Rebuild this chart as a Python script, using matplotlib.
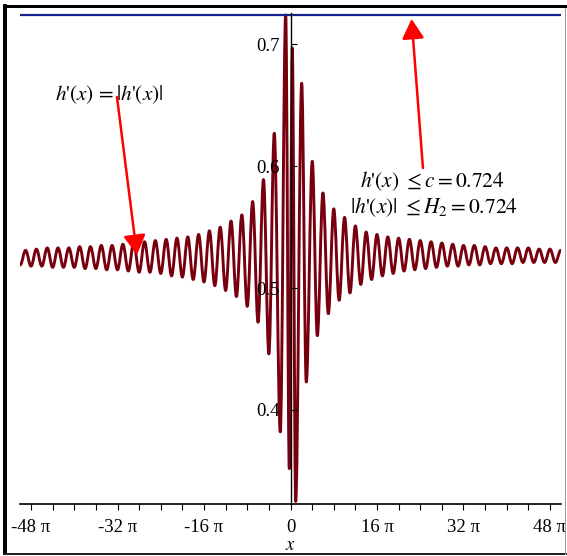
import numpy as np
import matplotlib.pyplot as plt
from matplotlib.path import Path
from matplotlib.patches import PathPatch, Rectangle

plt.rcParams['font.family'] = ['Liberation Serif', 'DejaVu Serif']
plt.rcParams['mathtext.fontset'] = 'stix'

# extrema of h'(x), x in units of pi
ext_x = [-50, -49, -48, -47, -46, -45, -44, -43, -42, -41, -40, -39, -38, -37,
         -36, -35, -34, -33, -32, -31, -30, -29, -28, -27, -26, -25, -24, -23,
         -22, -21, -20, -19, -18, -17, -16, -15, -14, -13, -12, -11, -10, -9,
         -8, -7, -6, -5, -4, -3, -1.89, -0.89, -0.22, 0.33, 0.96, 2.07, 2.92,
         4.03, 4.96, 6, 7, 8, 9, 10, 11, 12, 13, 14, 15, 16, 17, 18, 19, 20,
         21, 22, 23, 24, 25, 26, 27, 28, 29, 30, 31, 32, 33, 34, 35, 36, 37,
         38, 39, 40, 41, 42, 43, 44, 45, 46, 47, 48, 49, 50]
ext_y = [0.519, 0.531, 0.518, 0.532, 0.518, 0.533, 0.517, 0.533, 0.517, 0.533,
         0.517, 0.534, 0.516, 0.534, 0.516, 0.535, 0.515, 0.535, 0.515, 0.536,
         0.514, 0.537, 0.513, 0.538, 0.513, 0.539, 0.512, 0.540, 0.510, 0.541,
         0.509, 0.542, 0.507, 0.544, 0.505, 0.547, 0.502, 0.550, 0.498, 0.555,
         0.493, 0.560, 0.485, 0.571, 0.472, 0.589, 0.446, 0.627, 0.382, 0.724,
         0.352, 0.697, 0.325, 0.668, 0.423, 0.604, 0.461, 0.578, 0.479, 0.565,
         0.490, 0.558, 0.496, 0.551, 0.503, 0.546, 0.507, 0.544, 0.510, 0.542,
         0.512, 0.541, 0.514, 0.540, 0.515, 0.539, 0.516, 0.538, 0.517, 0.537,
         0.518, 0.536, 0.518, 0.535, 0.519, 0.535, 0.519, 0.534, 0.520, 0.533,
         0.520, 0.533, 0.520, 0.533, 0.521, 0.533, 0.521, 0.532, 0.521, 0.532,
         0.521, 0.531]

c_value = 0.724
x_major = [-48, -32, -16, 0, 16, 32, 48]
x_labels = ['-48 π', '-32 π', '-16 π', '0', '16 π', '32 π', '48 π']
y_major = [0.4, 0.5, 0.6, 0.7]
y_labels = ['0.4', '0.5', '0.6', '0.7']

W, H = 567, 556
fig = plt.figure(figsize=(W / 100, H / 100), dpi=100)
ax = fig.add_axes([20.2 / W, 1 - 503.5 / H, 540.6 / W, 490.8 / H])


def px(x, y):
    # figure pixel (from top-left) -> figure fraction
    return x / W, 1 - y / H


# the curve, drawn as smooth bezier segments between extrema
xs = np.array(ext_x) * np.pi
ys = np.array(ext_y)
k = 0.3642
verts = [(xs[0], ys[0])]
codes = [Path.MOVETO]
for i in range(len(xs) - 1):
    dx = xs[i + 1] - xs[i]
    verts += [(xs[i] + k * dx, ys[i]), (xs[i + 1] - k * dx, ys[i + 1]), (xs[i + 1], ys[i + 1])]
    codes += [Path.CURVE4] * 3
ax.add_patch(PathPatch(Path(verts, codes), facecolor='none', edgecolor='#78000e',
                       lw=2.1, capstyle='round', joinstyle='round'))

ax.axhline(c_value, color='#16228c', lw=1.6)

ax.set_xlim(-50 * np.pi, 50 * np.pi)
ax.set_ylim(0.3233, 0.7259)

for s in ['top', 'right']:
    ax.spines[s].set_visible(False)
ax.spines['left'].set_position(('data', 0))
ax.spines['left'].set_linewidth(1.0)
ax.spines['bottom'].set_linewidth(1.2)

ax.set_xticks([v * np.pi for v in x_major])
ax.set_xticklabels(x_labels)
ax.set_xticks([v * np.pi for v in range(-48, 49, 4)], minor=True)
ax.tick_params(axis='x', which='both', direction='out', length=4, width=0.8,
               labelsize=13.5, pad=7.5)
ax.set_yticks(y_major)
ax.set_yticklabels(y_labels)
ax.tick_params(axis='y', direction='in', length=4, width=0.8, labelsize=13.5, pad=7.5)

fig.text(*px(290.5, 545), '$x$', fontsize=13.5, ha='center', va='center')

# annotations
hp = r"h\text{'}(x)"
ax.text(-43.5 * np.pi, 0.6543, rf"${hp}\,=|{hp}|$", fontsize=15.3, va='baseline')
ax.text(12.9 * np.pi, 0.583, rf"${hp}\ \leq c = 0.724$", fontsize=15.5, va='baseline')
ax.text(11.0 * np.pi, 0.5616, rf"$|{hp}|\ \leq H_2 = 0.724$", fontsize=15.5, va='baseline')

arrow = dict(arrowstyle='-|>,head_length=0.8,head_width=0.45', color='#ff0000',
             lw=1.8, shrinkA=0, shrinkB=0, mutation_scale=15)
ax.annotate('', xy=(-28.4 * np.pi, 0.5272), xytext=(-32.1 * np.pi, 0.6568), arrowprops=arrow)
ax.annotate('', xy=(22.4 * np.pi, 0.7208), xytext=(24.5 * np.pi, 0.5985), arrowprops=arrow)

# frame around the picture
fig.add_artist(Rectangle(px(3, 555), 4 / W, 551 / H, transform=fig.transFigure,
                         color='black', lw=0))
fig.add_artist(Rectangle(px(3, 8), 564 / W, 3.5 / H, transform=fig.transFigure,
                         color='black', lw=0))
fig.add_artist(Rectangle(px(3, 555), 564 / W, 1.6 / H, transform=fig.transFigure,
                         color='#222222', lw=0))
fig.add_artist(Rectangle(px(565, 555), 1.3 / W, 547 / H, transform=fig.transFigure,
                         color='#9a9a9a', lw=0))

fig.savefig('out.png', dpi=100)
